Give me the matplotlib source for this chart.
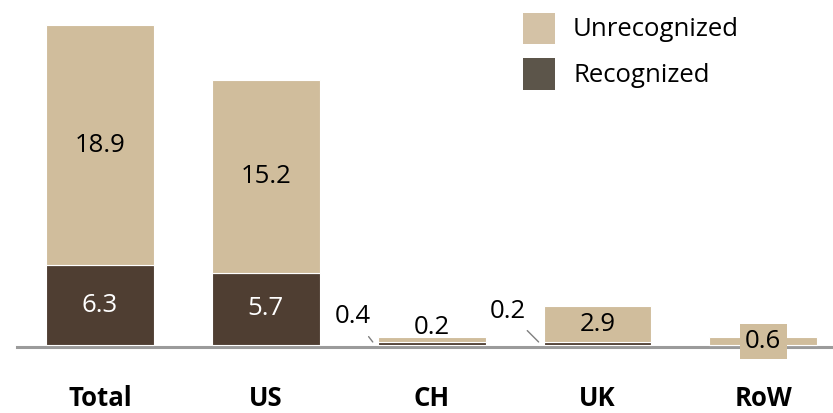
import matplotlib
matplotlib.use('Agg')
import matplotlib.pyplot as plt
from matplotlib.patches import Rectangle
import numpy as np

categories = ['Total', 'US', 'CH', 'UK', 'RoW']
recognized = [6.3, 5.7, 0.2, 0.2, 0.0]
unrecognized = [18.9, 15.2, 0.4, 2.9, 0.6]

tan = '#D0BD9C'
dark = '#4F3E32'
axis_grey = '#9B9B9B'

plt.rcParams['font.family'] = ['Open Sans', 'DejaVu Sans']

W, H = 833, 413
fig = plt.figure(figsize=(W / 100, H / 100), dpi=100)
ax = fig.add_axes([17 / W, 1 - 347 / H, 1 - 17 / W, 347 / H])

x = np.arange(len(categories))
width = 0.65
rec = np.array(recognized)
unrec = np.array(unrecognized)

ax.bar(x, rec, width, color=dark, edgecolor='white', linewidth=0.8, zorder=2)
ax.bar(x, unrec, width, bottom=rec, color=tan, edgecolor='white', linewidth=0.8, zorder=2)

ax.set_xlim(-0.5, 4.42)
ax.set_ylim(-0.157, 27.17)

for s in ['top', 'right', 'left']:
    ax.spines[s].set_visible(False)
ax.spines['bottom'].set_color(axis_grey)
ax.spines['bottom'].set_linewidth(2.2)
ax.spines['bottom'].set_zorder(1)
ax.set_xticks([])
ax.set_yticks([])

fs = 18.5

# values inside the big bars
for i in [0, 1]:
    ax.text(x[i], rec[i] / 2, f'{rec[i]:.1f}', ha='center', va='center',
            color='white', fontsize=fs, zorder=3)
    ax.text(x[i], rec[i] + unrec[i] / 2, f'{unrec[i]:.1f}', ha='center',
            va='center', color='black', fontsize=fs, zorder=3)

# CH: small bar, label above, unrecognized with leader
ax.annotate(f'{rec[2]:.1f}', xy=(x[2], rec[2]), xytext=(0, 1.5),
            textcoords='offset points', ha='center', va='bottom', fontsize=fs)
ax.annotate(f'{unrec[2]:.1f}', xy=(x[2] - width / 2 - 0.03, 0.24),
            xytext=(-14, 18), textcoords='offset points', ha='center',
            va='center', fontsize=fs,
            arrowprops=dict(arrowstyle='-', color='#7F7F7F', lw=1.0,
                            shrinkA=4, shrinkB=0))

# UK
ax.text(x[3], rec[3] + unrec[3] / 2, f'{unrec[3]:.1f}', ha='center',
        va='center', color='black', fontsize=fs, zorder=3)
ax.annotate(f'{rec[3]:.1f}', xy=(x[3] - width / 2 - 0.03, 0.24),
            xytext=(-22, 22), textcoords='offset points', ha='center',
            va='center', fontsize=fs,
            arrowprops=dict(arrowstyle='-', color='#7F7F7F', lw=1.0,
                            shrinkA=4, shrinkB=0))

# RoW
ax.text(x[4], rec[4] + unrec[4] / 2, f'{unrec[4]:.1f}', ha='center',
        va='center', color='black', fontsize=fs, zorder=3,
        bbox=dict(boxstyle='square,pad=0.2', fc=tan, ec='none'))

# category labels
for i, c in enumerate(categories):
    ax.annotate(c, xy=(x[i], 0), xycoords=('data', 'axes fraction'),
                xytext=(0, -46.5), textcoords='offset points', ha='center',
                va='bottom', fontsize=fs, fontweight='bold',
                annotation_clip=False)

# legend
fig.add_artist(Rectangle((523 / W, 1 - 44 / H), 32 / W, 31 / H,
                         transform=fig.transFigure, fc='#D4C2A6', ec='none'))
fig.add_artist(Rectangle((523 / W, 1 - 90 / H), 32 / W, 32 / H,
                         transform=fig.transFigure, fc='#5C554A', ec='none'))
fig.text(573 / W, 1 - 30 / H, 'Unrecognized', fontsize=fs, va='center')
fig.text(573 / W, 1 - 75 / H, 'Recognized', fontsize=fs, va='center')

fig.savefig('out.png', dpi=100)
